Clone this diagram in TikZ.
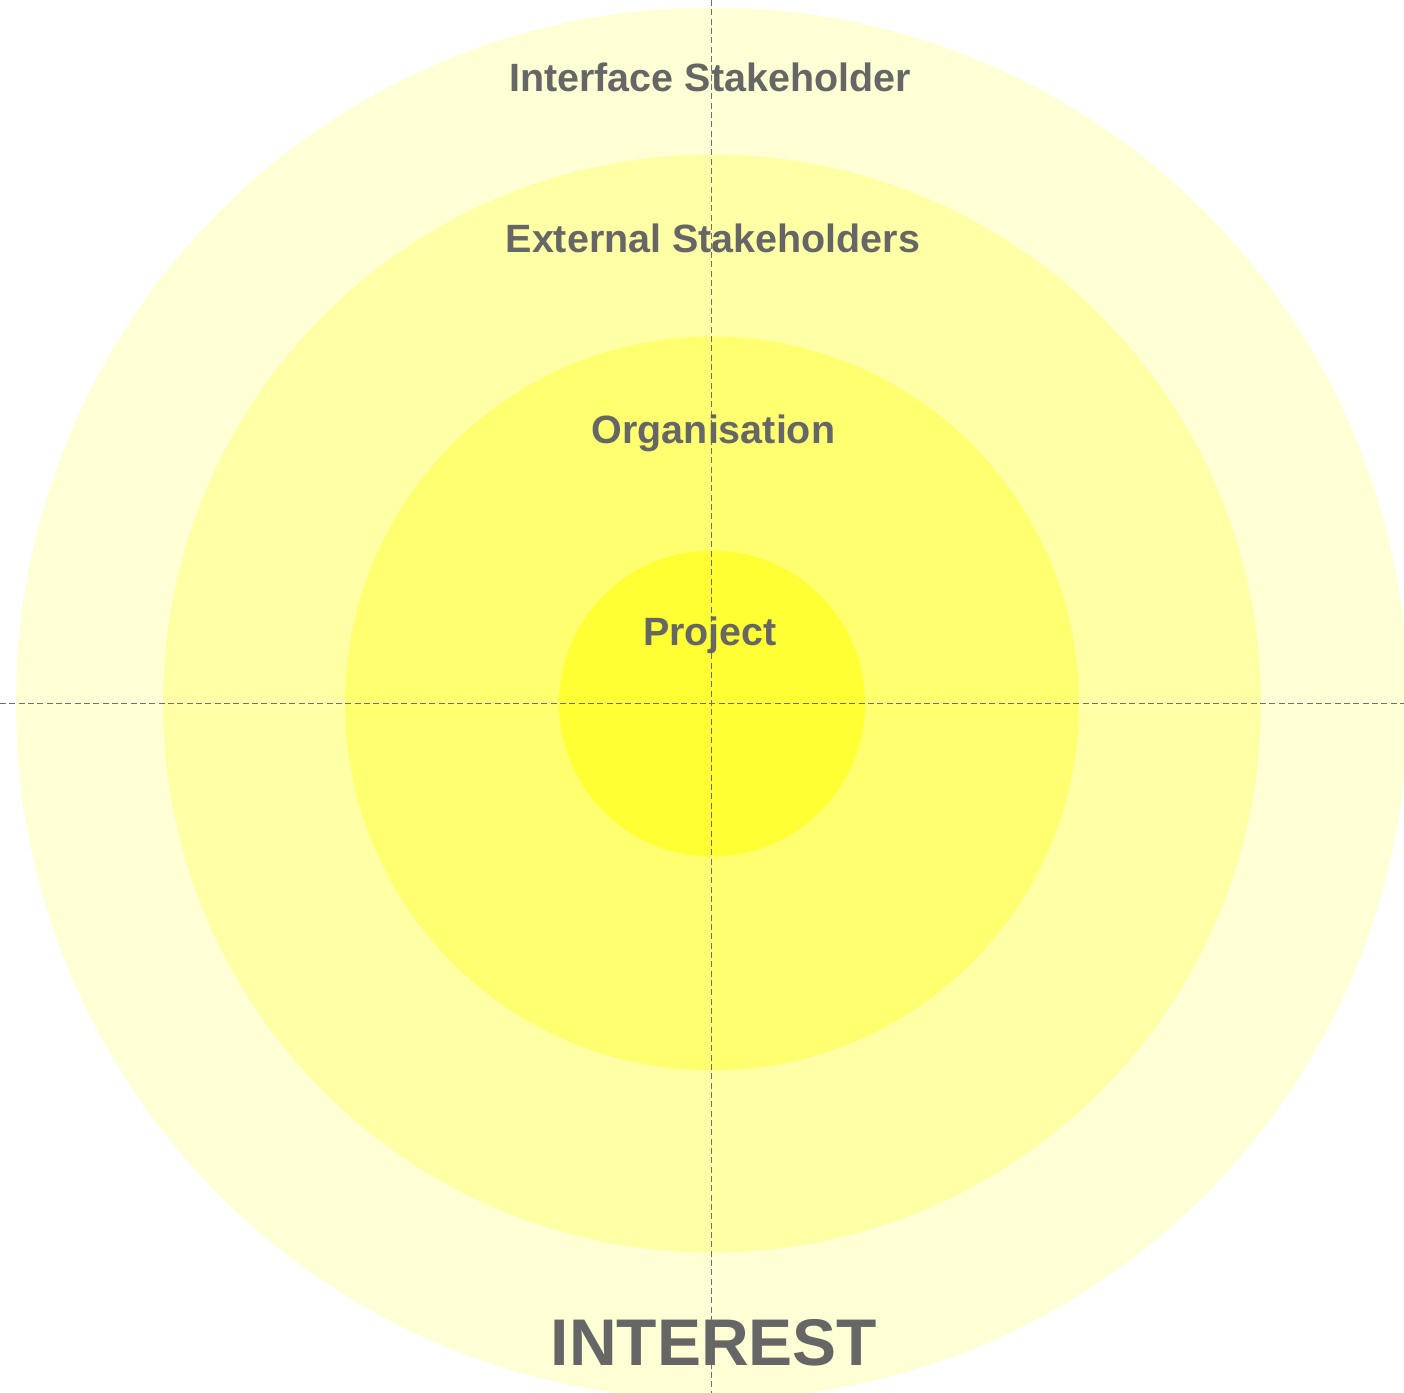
\documentclass[tikz,border=0pt]{standalone}
\usepackage{fontspec}
\setmainfont{Liberation Sans}
\definecolor{ringA}{HTML}{FFFFD5}
\definecolor{ringB}{HTML}{FFFFA6}
\definecolor{ringC}{HTML}{FFFF70}
\definecolor{ringD}{HTML}{FFFF33}
\definecolor{labelgray}{HTML}{666666}
\definecolor{axisgray}{HTML}{707070}
\tikzset{
  ringlabel/.style={anchor=base,text=labelgray,font=\fontsize{29.6}{36}\selectfont\bfseries,inner sep=0pt},
  axisline/.style={draw=axisgray,line width=0.75pt,dash pattern=on 4.5pt off 2.5pt}
}
\begin{document}
\begin{tikzpicture}[x=0.75pt,y=0.75pt]
\useasboundingbox (-712,-689.5) rectangle (692,703.5);
\fill[white] (-712,-689.5) rectangle (692,703.5);

\begin{scope}
\clip (-712,-689.5) rectangle (692,703.5);
\fill[ringA] (0,0) circle (696);
\fill[ringB] (0,0) circle (549);
\fill[ringC] (0,0) circle (367);
\fill[ringD] (0,0) circle (153);
\end{scope}

\coordinate (top) at (0,703.5);
\coordinate (bottom) at (0,-689.5);
\coordinate (left) at (-712,0);
\coordinate (right) at (692,0);
\draw[axisline] (left) -- (right);
\draw[axisline] (top) -- (bottom);

\node[ringlabel] (interface) at (-2,611.8) {Interface Stakeholder};
\node[ringlabel] (external) at (1,450.5) {External Stakeholders};
\node[ringlabel] (organisation) at (1.5,259.5) {Organisation};
\node[ringlabel] (project) at (-2,58.5) {Project};
\node[ringlabel,font=\fontsize{49.5}{60}\selectfont\bfseries] (interest) at (2,-661.5) {INTEREST};

\end{tikzpicture}
\end{document}
